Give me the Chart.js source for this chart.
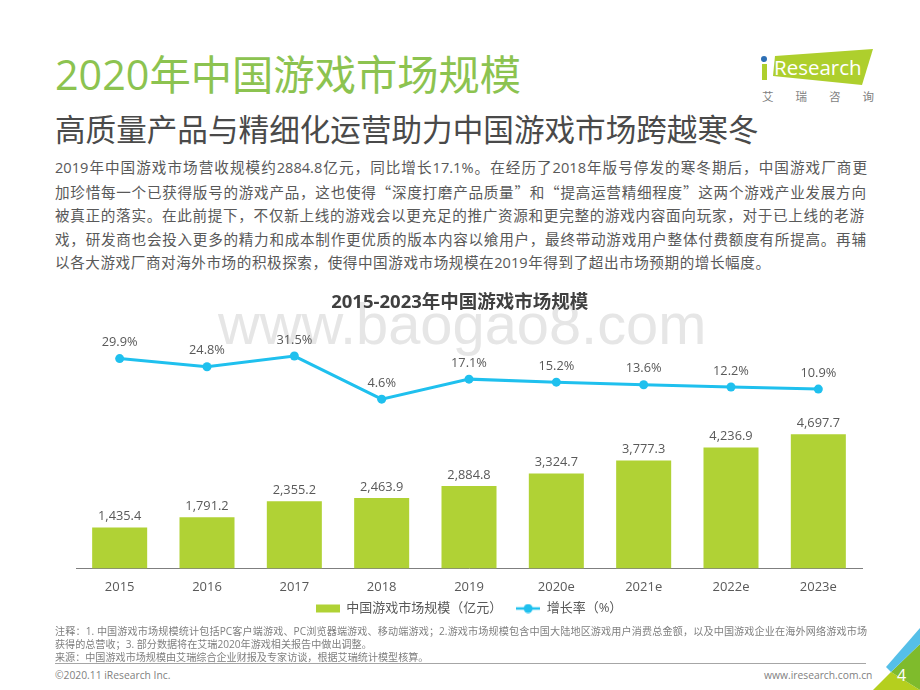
<!doctype html>
<html lang="zh-CN">
<head>
<meta charset="utf-8" />
<title>2020年中国游戏市场规模</title>
<script src="https://cdn.jsdelivr.net/npm/chart.js@4.4.1/dist/chart.umd.min.js"></script>
<style>
  *{box-sizing:border-box}
  html,body{margin:0;padding:0;background:#fff}
  body{position:relative;width:920px;height:690px;overflow:hidden;font-family:"Open Sans","Noto Sans CJK SC",sans-serif;color:#595959}
  .abs{position:absolute;white-space:nowrap}
  .title{left:55px;top:46px;font-size:41.3px;line-height:56px;color:#8cc350}
  .sub{left:55px;top:107px;font-size:30.6px;line-height:44px;color:#4a4a4a}
  .body{left:55px;top:156px;font-size:14.6px;line-height:23.5px;color:#595959;white-space:normal}
  .note{left:55px;top:625px;font-size:10.1px;line-height:13px;color:#7f7f7f;white-space:normal}
  .fit{display:block;text-align-last:justify;text-justify:inter-character;white-space:nowrap}
  .q{font-family:"Noto Sans CJK SC",sans-serif}
  .rule{left:55px;top:663px;width:811px;height:1px;background:#a6a6a6}
  .foot{font-size:10.3px;line-height:14px;color:#7f7f7f}
  .wm{left:218px;top:284px;font-family:"Liberation Sans",sans-serif;font-size:57.8px;line-height:80px;color:#e6e6e6}
  #wrap{position:absolute;left:60px;top:285px;width:820px;height:340px}
  #deco{position:absolute;left:0;top:0}
</style>
</head>
<body>
<svg id="deco" width="920" height="690">
  <polygon points="775,56 873,49 862,85 773,76" fill="#aecf2d"/>
  <rect x="762" y="64" width="5" height="16" fill="#aecf2d"/>
  <circle cx="764" cy="59" r="3" fill="#2d6fb5"/>
  <text x="774" y="75" font-family="Open Sans" font-size="20.5" fill="#fff">Research</text>
  <polygon points="873,690 891,672 920,690" fill="#b5cf1e"/>
  <polygon points="891,672 920,644 920,690" fill="#7fbb2c"/>
  <polygon points="886,667 920,628 920,644 891,672" fill="#55bfe8"/>
  <text x="897" y="681" font-family="Open Sans" font-size="16" fill="#fff">4</text>
</svg>
<div class="abs" style="left:762px;top:90px;font-size:11.5px;line-height:14px;letter-spacing:22px;color:#7f7f7f">艾瑞咨询</div>
<div class="abs title">2020年中国游戏市场规模</div>
<div class="abs sub">高质量产品与精细化运营助力中国游戏市场跨越寒冬</div>
<div class="abs body">
  <span class="fit" style="width:812px">2019年中国游戏市场营收规模约2884.8亿元，同比增长17.1%。在经历了2018年版号停发的寒冬期后，中国游戏厂商更</span>
  <span class="fit" style="width:811px">加珍惜每一个已获得版号的游戏产品，这也使得<span class="q">“</span>深度打磨产品质量<span class="q">”</span>和<span class="q">“</span>提高运营精细程度<span class="q">”</span>这两个游戏产业发展方向</span>
  <span class="fit" style="width:809px">被真正的落实。在此前提下，不仅新上线的游戏会以更充足的推广资源和更完整的游戏内容面向玩家，对于已上线的老游</span>
  <span class="fit" style="width:811px">戏，研发商也会投入更多的精力和成本制作更优质的版本内容以飨用户，最终带动游戏用户整体付费额度有所提高。再辅</span>
  <span class="fit" style="width:715px">以各大游戏厂商对海外市场的积极探索，使得中国游戏市场规模在2019年得到了超出市场预期的增长幅度。</span>
</div>
<div class="abs wm">www.baogao8.com</div>
<div id="wrap"><canvas id="c"></canvas></div>
<div class="abs note">
  <span class="fit" style="width:812px">注释：1. 中国游戏市场规模统计包括PC客户端游戏、PC浏览器端游戏、移动端游戏；2.游戏市场规模包含中国大陆地区游戏用户消费总金额，以及中国游戏企业在海外网络游戏市场</span>
  获得的总营收；3. 部分数据将在艾瑞2020年游戏相关报告中做出调整。<br>来源：中国游戏市场规模由艾瑞综合企业财报及专家访谈，根据艾瑞统计模型核算。
</div>
<div class="abs rule"></div>
<div class="abs foot" style="left:55px;top:668px">©2020.11 iResearch Inc.</div>
<div class="abs foot" style="left:764px;top:668px">www.iresearch.com.cn</div>
<script>
const categories = ["2015","2016","2017","2018","2019","2020e","2021e","2022e","2023e"];
const marketSize = [1435.4,1791.2,2355.2,2463.9,2884.8,3324.7,3777.3,4236.9,4697.7];
const growthRate = [29.9,24.8,31.5,4.6,17.1,15.2,13.6,12.2,10.9];
const barColor = "#b0d235";
const lineColor = "#1fc0ee";
const fontFamily = '"Open Sans","Noto Sans CJK SC",sans-serif';

function legendIcon(kind){
  const cv = document.createElement("canvas");
  cv.width = 24; cv.height = 10;
  const x = cv.getContext("2d");
  if(kind === "bar"){
    x.fillStyle = barColor; x.fillRect(0,1,24,8);
  } else {
    x.strokeStyle = lineColor; x.lineWidth = 2.5;
    x.beginPath(); x.moveTo(0,5); x.lineTo(24,5); x.stroke();
    x.fillStyle = lineColor; x.beginPath(); x.arc(12,5,4.5,0,Math.PI*2); x.fill();
  }
  return cv;
}

const valueLabels = {
  id:"valueLabels",
  afterDatasetsDraw(chart){
    const {ctx} = chart;
    ctx.save();
    ctx.font = "12.8px " + fontFamily;
    ctx.fillStyle = "#595959";
    ctx.textAlign = "center";
    chart.getDatasetMeta(0).data.forEach((el,i)=>{
      ctx.fillText(growthRate[i].toFixed(1)+"%", el.x, el.y-16);
    });
    chart.getDatasetMeta(1).data.forEach((el,i)=>{
      ctx.fillText(marketSize[i].toLocaleString("en-US",{minimumFractionDigits:1}), el.x, el.y-11);
    });
    ctx.restore();
  }
};

new Chart(document.getElementById("c"),{
  data:{
    labels:categories,
    datasets:[
      {type:"line",label:"增长率（%）",data:growthRate,yAxisID:"yRate",order:0,
       borderColor:lineColor,backgroundColor:lineColor,borderWidth:3,pointRadius:4.5,pointBackgroundColor:lineColor,pointBorderWidth:0,tension:0},
      {type:"bar",label:"中国游戏市场规模（亿元）",data:marketSize,yAxisID:"ySize",order:1,
       backgroundColor:barColor,categoryPercentage:1,barPercentage:0.63}
    ]
  },
  options:{
    responsive:true,maintainAspectRatio:false,animation:false,
    layout:{padding:{left:16,right:18,top:0,bottom:0}},
    plugins:{
      // trailing space: the title sits a little left of the plot centre
      title:{display:true,text:"2015-2023年中国游戏市场规模\u3000",color:"#404040",
             font:{family:fontFamily,size:18.5,weight:"bold"},padding:{top:7,bottom:4.8}},
      legend:{position:"bottom",
        labels:{
          color:"#595959",font:{family:fontFamily,size:13},boxHeight:10,usePointStyle:true,pointStyleWidth:24,padding:1,
          generateLabels(){
            return [
              {text:"中国游戏市场规模（亿元）\u3000\u2002",pointStyle:legendIcon("bar"),fontColor:"#595959",datasetIndex:1},
              {text:"增长率（%）",pointStyle:legendIcon("line"),fontColor:"#595959",datasetIndex:0}
            ];
          }
        }},
      tooltip:{enabled:false}
    },
    scales:{
      x:{grid:{display:false,drawTicks:false},border:{color:"#7f7f7f"},
         ticks:{color:"#595959",font:{family:fontFamily,size:13},padding:11},
         afterFit(scale){ scale.height = 32.5; }},
      ySize:{display:false,min:0,max:8728},
      yRate:{display:false,min:-101,max:54.6}
    }
  },
  plugins:[valueLabels]
});
</script>
</body>
</html>
